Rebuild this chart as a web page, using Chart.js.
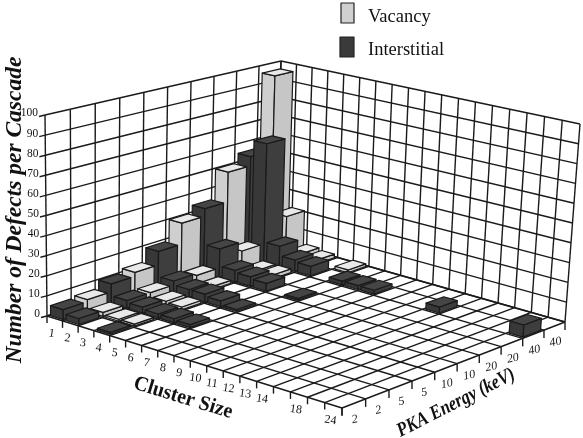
<!DOCTYPE html>
<html>
<head>
<meta charset="utf-8">
<style>
  html, body { margin: 0; padding: 0; background: #fff; }
</style>
<script src="https://cdn.jsdelivr.net/npm/chart.js@4"></script>
</head>
<body>
<canvas id="chart" width="583" height="438"></canvas>
<script>
const clusterSizes = ["1","2","3","4","5","6","7","8","9","10","11","12","13","14","16","18","20","24"];
const clusterTicks = ["1","2","3","4","5","6","7","8","9","10","11","12","13","14","","18","","24"];
const energyTicks = ["2","2","5","5","10","10","20","20","40","40"];
const valueTicks = [0,10,20,30,40,50,60,70,80,90,100];

// one row per PKA energy, interstitial row sits in front of the vacancy row
const interstitial2  = [5,3,0,1,0,0,0,0,0,0,0,0,0,0,0,0,0,0];
const vacancy2       = [6,2,1,1,0,0,0,0,0,0,0,0,0,0,0,0,0,0];
const interstitial5  = [10,4,3,2,2,1.5,0,0,0,0,0,0,0,0,0,0,0,0];
const vacancy5       = [12,4,2,1.5,0,0,0,0,0,0,0,0,0,0,0,0,0,0];
const interstitial10 = [19,6,4,4,3,1,0,0,0,0,0,0,0,0,0,0,0,0];
const vacancy10      = [30,5,1.5,0,0,0,0,0,0,0,0,0,0,0,0,0,0,0];
const interstitial20 = [34,15,6,5,4,0,1,0,0,0,0,0,0,0,0,0,0,0];
const vacancy20      = [50,10,2,2,0,0,0,0,0,0,0,0,0,0,0,0,0,0];
const interstitial40 = [55,64,11,6,5,0,2,2,2,0,0,0,3,0,0,0,0,6];
const vacancy40      = [96,21,3,2,0,1.5,0,0,0,0,0,0,0,0,0,0,0,0];

const rows = [interstitial2, vacancy2, interstitial5, vacancy5, interstitial10, vacancy10, interstitial20, vacancy20, interstitial40, vacancy40];
const rowNames = ["Interstitial 2","Vacancy 2","Interstitial 5","Vacancy 5","Interstitial 10","Vacancy 10","Interstitial 20","Vacancy 20","Interstitial 40","Vacancy 40"];

const floorQuad = [[47,316],[342,408],[565,322],[276,240]];
const topQuad = [[45,115],[351,188],[580,124],[281,61]];
const lineCol = "#1a1a1a";

function quadMap(q) {
  const [p0,p1,p2,p3] = q;
  const dx1 = p1[0]-p2[0], dx2 = p3[0]-p2[0], sx = p0[0]-p1[0]+p2[0]-p3[0];
  const dy1 = p1[1]-p2[1], dy2 = p3[1]-p2[1], sy = p0[1]-p1[1]+p2[1]-p3[1];
  const det = dx1*dy2-dx2*dy1;
  const g = (sx*dy2-dx2*sy)/det, h = (dx1*sy-sx*dy1)/det;
  const a = p1[0]-p0[0]+g*p1[0], b = p3[0]-p0[0]+h*p3[0];
  const d = p1[1]-p0[1]+g*p1[1], e = p3[1]-p0[1]+h*p3[1];
  return (u,v) => {
    const w = g*u+h*v+1;
    return [(a*u+b*v+p0[0])/w, (d*u+e*v+p0[1])/w];
  };
}
const floorAt = quadMap(floorQuad);
const topAt = quadMap(topQuad);

function project(u,v,w) {
  const f = floorAt(u,v), t = topAt(u,v);
  return [f[0]+(t[0]-f[0])*w, f[1]+(t[1]-f[1])*w];
}

function poly(ctx, pts, fill) {
  ctx.beginPath();
  pts.forEach((p,i) => i ? ctx.lineTo(p[0],p[1]) : ctx.moveTo(p[0],p[1]));
  ctx.closePath();
  if (fill) { ctx.fillStyle = fill; ctx.fill(); }
  ctx.stroke();
}

function seg(ctx, a, b) {
  ctx.beginPath();
  ctx.moveTo(a[0],a[1]);
  ctx.lineTo(b[0],b[1]);
  ctx.stroke();
}

function label(ctx, text, x, y, font, angle, align, squeeze) {
  ctx.save();
  ctx.translate(x,y);
  ctx.rotate((angle||0)*Math.PI/180);
  if (squeeze) ctx.scale(squeeze,1);
  ctx.font = font;
  ctx.fillStyle = "#111";
  ctx.textAlign = align || "center";
  ctx.textBaseline = "middle";
  ctx.fillText(text,0,0);
  ctx.restore();
}

const box3d = {
  id: "box3d",
  afterDatasetsDraw(chart) {
    const ctx = chart.ctx;
    const xs = chart.scales.x, ys = chart.scales.y, es = chart.scales.e;
    const nU = clusterSizes.length, nV = energyTicks.length;
    const uOf = i => (xs.getPixelForValue(i)-xs.left)/xs.width;
    const vOf = i => (es.getPixelForValue(i)-es.left)/es.width;
    const wOf = val => (ys.bottom-ys.getPixelForValue(val))/ys.height;
    const du = 1/nU, dv = 1/nV;

    ctx.save();
    ctx.lineJoin = "round";
    ctx.strokeStyle = lineCol;
    ctx.lineWidth = 1.4;

    // walls and floor
    for (let i = 0; i <= nV; i++) seg(ctx, project(0,i*dv,0), project(0,i*dv,1));
    for (let i = 0; i <= nU; i++) seg(ctx, project(i*du,1,0), project(i*du,1,1));
    valueTicks.forEach(t => {
      const w = wOf(t);
      seg(ctx, project(0,0,w), project(0,1,w));
      seg(ctx, project(0,1,w), project(1,1,w));
      const p = project(0,0,w);
      seg(ctx, p, [p[0]-6,p[1]+1.5]);
      label(ctx, String(t), p[0]-7, p[1]-2, "13px 'Liberation Serif'", 0, "right", 0.88);
    });
    for (let i = 0; i <= nU; i++) {
      const p = project(i*du,0,0);
      seg(ctx, p, project(i*du,1,0));
      seg(ctx, p, [p[0],p[1]+7]);
    }
    for (let i = 0; i <= nV; i++) {
      const p = project(1,i*dv,0);
      seg(ctx, p, project(0,i*dv,0));
      seg(ctx, p, [p[0],p[1]+8]);
    }
    clusterTicks.forEach((t,i) => {
      if (!t) return;
      const p = project(uOf(i),0,0);
      label(ctx, t, p[0]-3, p[1]+15, "12px 'Liberation Serif'", 8);
    });
    energyTicks.forEach((t,i) => {
      const p = project(1,vOf(i),0);
      label(ctx, t, p[0]+1, p[1]+16, "italic 12px 'Liberation Serif'", -12);
    });

    // bars, back row first
    const hu = 0.41*du, hv = 0.41*dv;
    ctx.lineWidth = 1.2;
    for (let r = nV-1; r >= 0; r--) {
      const ds = chart.data.datasets[r];
      const light = r % 2 === 1;
      ds.data.forEach((val,c) => {
        if (!val) return;
        const u = uOf(c), v = vOf(r), w = wOf(val);
        const a = project(u-hu,v-hv,0), b = project(u+hu,v-hv,0), d = project(u+hu,v+hv,0);
        const at = project(u-hu,v-hv,w), bt = project(u+hu,v-hv,w), dt = project(u+hu,v+hv,w), et = project(u-hu,v+hv,w);
        poly(ctx, [a,b,bt,at], light ? "#cfcfcf" : "#383838");
        poly(ctx, [b,d,dt,bt], light ? "#c6c6c6" : "#3e3e3e");
        poly(ctx, [at,bt,dt,et], light ? "#e9e9e9" : "#454545");
      });
    }

    // legend
    ctx.strokeStyle = "#222";
    ctx.fillStyle = "#d0d0d0";
    ctx.fillRect(341,3,13,20);
    ctx.strokeRect(341,3,13,20);
    ctx.fillStyle = "#3a3a3a";
    ctx.fillRect(340,37,14,20);
    ctx.strokeRect(340,37,14,20);
    label(ctx, "Vacancy", 368, 17, "18.5px 'Liberation Serif'", 0, "left");
    label(ctx, "Interstitial", 368, 50, "18.5px 'Liberation Serif'", 0, "left");

    // axis titles
    label(ctx, "Number of Defects per Cascade", 15, 210, "italic bold 23.5px 'Liberation Serif'", -90);
    label(ctx, "Cluster Size", 183, 398, "bold 21px 'Liberation Serif'", 17, "center", 0.95);
    label(ctx, "PKA Energy (keV)", 456, 403, "italic bold 20px 'Liberation Serif'", -27, "center", 0.84);
    ctx.restore();
  }
};

new Chart(document.getElementById("chart"), {
  type: "bar",
  data: {
    labels: clusterSizes,
    datasets: rows.map((r,i) => ({
      label: rowNames[i],
      data: r,
      backgroundColor: "rgba(0,0,0,0)",
      borderWidth: 0
    }))
  },
  options: {
    responsive: false,
    animation: false,
    layout: { padding: 0 },
    plugins: { legend: { display: false }, tooltip: { enabled: false } },
    scales: {
      x: { display: false },
      y: { display: false, min: 0, max: 100 },
      e: { type: "category", axis: "x", labels: energyTicks, offset: true, display: false }
    }
  },
  plugins: [box3d]
});
</script>
</body>
</html>
